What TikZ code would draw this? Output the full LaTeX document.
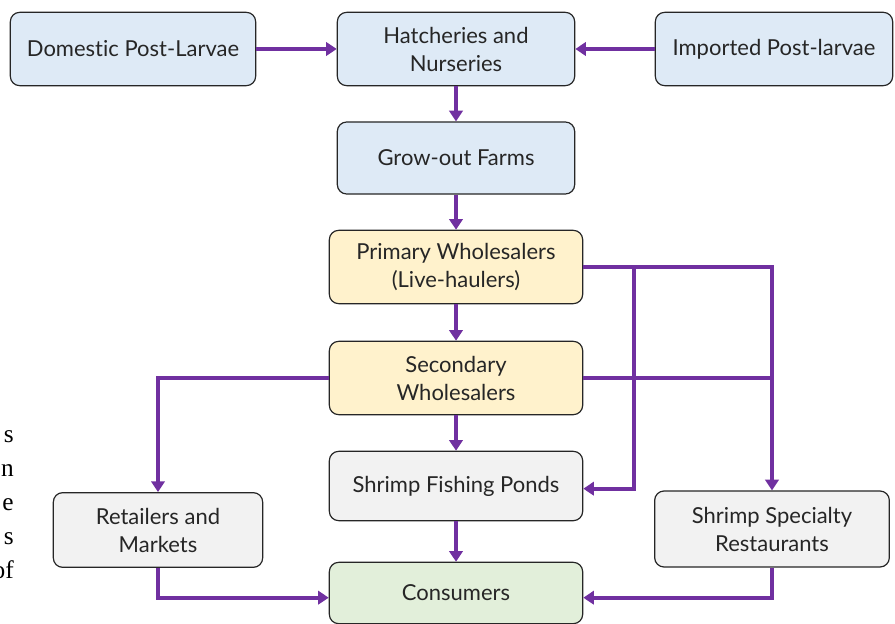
\documentclass[tikz,border=0pt]{standalone}
\usepackage{fontspec}
\setmainfont{Lato}[Ligatures={NoCommon,NoRare}]
\newfontfamily\cutfont{Liberation Serif}
\usetikzlibrary{positioning,arrows.meta,calc}
\definecolor{ink}     {HTML}{262626}
\definecolor{flowc}   {HTML}{7030A0}
\definecolor{bluefill}{HTML}{DEEAF6}
\definecolor{yelfill} {HTML}{FFF2CC}
\definecolor{grayfill}{HTML}{F2F2F2}
\definecolor{grnfill} {HTML}{E2EFDA}
\tikzset{
  every node/.style={font=\fontsize{16.5}{21}\selectfont},
  % --- nodes
  box/.style   = {rounded corners=7pt, draw=ink, line width=0.9pt, align=center,
                  inner sep=3pt, text=ink, minimum height=55pt},
  src/.style   = {box, fill=bluefill},
  whl/.style   = {box, fill=yelfill},
  retail/.style= {box, fill=grayfill},
  sink/.style  = {box, fill=grnfill},
  % --- edges
  line/.style  = {line width=2.8pt, draw=flowc},
  flow/.style  = {line, -{Triangle[length=8pt,width=10pt]}},
}
\begin{document}
\begin{tikzpicture}[x=0.75pt,y=-0.75pt]
  \useasboundingbox (0,0) rectangle (895,624);
  \node[src, minimum width=184pt] (dom)  at (133,49)  {Domestic Post-Larvae};
  \node[src, minimum width=178pt] (hat)  at (456,49)  {Hatcheries and\\Nurseries};
  \node[src, minimum width=178pt] (imp)  at (774,49)  {Imported Post-larvae};
  \node[src, minimum width=178pt, minimum height=54pt] (grow) at (456,158) {Grow-out Farms};
  \node[whl, minimum width=190pt] (prim) at (456,267) {Primary Wholesalers\\(Live-haulers)};
  \node[whl, minimum width=190pt] (sec)  at (456,378) {Secondary\\Wholesalers};
  \node[retail, minimum width=190pt, minimum height=52pt] (pond) at (456,486) {Shrimp Fishing Ponds};
  \node[retail, minimum width=157pt, minimum height=56pt] (ret)  at (158,530) {Retailers and\\Markets};
  \node[retail, minimum width=176pt, minimum height=57pt] (rest) at (772,529) {Shrimp Specialty\\Restaurants};
  \node[sink, minimum width=190pt, minimum height=46pt] (cons) at (456,593) {Consumers};
  \node[font=\cutfont\fontsize{19}{25.5}\selectfont, align=right, anchor=north east,
        inner sep=0pt] (cut) at (14,430) {s\\n\\e\\s\\of};
  \coordinate (split) at (634,266);
  \draw[flow] (dom) -- (hat);
  \draw[flow] (imp) -- (hat);
  \foreach \a/\b in {hat/grow,grow/prim,prim/sec,sec/pond,pond/cons}
    \draw[flow] (\a) -- (\b);
  \draw[flow] (prim.east) -| (rest.north);
  \draw[flow] (split) |- ([yshift=-2pt]pond.east);
  \draw[line] (sec.east) -- (sec.east -| rest.north);
  \draw[flow] (sec.west) -| (ret.north);
  \draw[flow] (ret.south) |- ([yshift=-3.5pt]cons.west);
  \draw[flow] (rest.south) |- ([yshift=-3.5pt]cons.east);
\end{tikzpicture}
\end{document}
